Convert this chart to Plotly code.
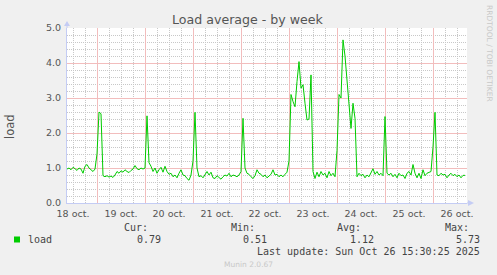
import pandas as pd
import plotly.graph_objects as go

# ---- data (hourly load average) ----
d18 = [0.97, 1.0, 0.95, 1.02, 0.98, 0.93, 1.0, 0.97, 0.85, 1.05, 1.1, 1.0, 0.95, 0.9, 0.97]
d19 = [1.4, 2.6, 2.55, 0.78, 0.75, 0.78, 0.74, 0.77, 0.73, 0.8, 0.9, 0.85, 0.92, 0.88, 0.95, 0.9,
       0.87, 0.93, 0.97, 1.07, 0.98, 0.95, 1.0, 0.97]
d20 = [1.0, 2.49, 1.15, 1.05, 0.9, 1.0, 0.85, 0.95, 1.02, 0.88, 1.05, 0.9, 0.82, 0.85, 0.75, 0.8,
       0.72, 0.85, 0.95, 0.8, 0.78, 0.7, 0.65, 0.8]
d21 = [1.2, 2.59, 1.0, 0.75, 0.78, 0.72, 0.82, 0.9, 0.8, 0.88, 0.72, 0.7, 0.78, 0.72, 0.68, 0.75,
       0.8, 0.77, 0.85, 0.75, 0.8, 0.78, 0.75, 0.8]
d22 = [0.9, 2.42, 1.0, 0.85, 0.82, 0.75, 0.7, 0.78, 0.95, 0.85, 0.82, 0.75, 0.8, 0.72, 0.78, 0.82,
       0.95, 0.8, 0.82, 0.75, 0.8, 0.75, 0.82, 0.88]
d23 = [1.2, 3.1, 2.9, 2.75, 3.47, 4.04, 3.28, 3.38, 2.85, 2.37, 2.4, 3.66, 0.9, 0.7, 0.88, 0.75,
       0.9, 0.8, 0.85, 0.72, 0.9, 0.78, 0.85, 0.75]
d24 = [1.5, 3.1, 3.0, 4.66, 4.2, 3.47, 2.75, 2.13, 2.85, 2.42, 0.75, 0.85, 0.78, 0.82, 0.72, 0.8,
       0.75, 0.85, 0.98, 0.82, 0.9, 0.8, 0.85, 0.78]
d25 = [2.47, 0.85, 0.8, 0.85, 0.75, 0.82, 0.72, 0.85, 0.78, 0.8, 0.7, 0.85, 0.9, 0.8, 1.1, 0.85,
       0.72, 0.85, 0.7, 0.95, 0.78, 0.85, 0.88, 0.9]
d26 = [1.6, 2.59, 0.8, 0.78, 0.85, 0.8, 0.82, 0.72, 0.8, 0.85, 0.78, 0.82, 0.75, 0.8, 0.72, 0.79, 0.79]

load = d18 + d19 + d20 + d21 + d22 + d23 + d24 + d25 + d26
start_time = "2025-10-18 09:00"
times = pd.date_range(start_time, periods=len(load), freq="h")

x_range = ["2025-10-18 09:00", "2025-10-26 17:00"]
y_range = [0, 5]
major_days = pd.date_range("2025-10-19", "2025-10-26", freq="D")

legend_cols = ["Cur:", "Min:", "Avg:", "Max:"]
legend_vals = ["0.79", "0.51", "1.12", "5.73"]
series_name = "load"
last_update = "Last update: Sun Oct 26 15:30:25 2025"

# minor grid positions (6 h and 0.2 steps), skipping the major (midnight / integer) lines
minor_x = [t for t in pd.date_range("2025-10-18 12:00", "2025-10-26 12:00", freq="6h") if t.hour != 0]
minor_y = [round(i * 0.2, 1) for i in range(1, 25) if i % 5 != 0]

# ---- layout geometry ----
W, H = 497, 275
ML, MR, MT, MB = 67, 30, 28, 72
PW, PH = W - ML - MR, H - MT - MB
X_SPAN_H = (pd.Timestamp(x_range[1]) - pd.Timestamp(x_range[0])).total_seconds() / 3600
HALF_PX_T = pd.Timedelta(hours=X_SPAN_H / PW / 2)      # half a pixel in time


def px(x):
    return (x - ML) / PW


def py(y):
    return (MT + PH - y) / PH


GREEN = "#00CC00"
TXT = "#555555"
LEG = "#444444"
AXC = "#C4CCF4"
MAJ = "#F2BDBD"
MIN = "#C8C8C8"
DASH = "1px,1px"

# vertical midnight (major) grid lines as a line trace beneath the data
gx, gy = [], []
for d in major_days:
    gx += [d + HALF_PX_T, d + HALF_PX_T, None]
    gy += [y_range[0], y_range[1], None]

fig = go.Figure()
fig.add_trace(go.Scatter(x=gx, y=gy, mode="lines", connectgaps=False,
                         line=dict(color=MAJ, width=1),
                         hoverinfo="skip", showlegend=False))
fig.add_trace(go.Scatter(x=times, y=load, mode="lines",
                         line=dict(color=GREEN, width=1), hoverinfo="skip",
                         showlegend=False))

fig.update_layout(
    width=W, height=H,
    margin=dict(l=ML, r=MR, t=MT, b=MB, pad=0),
    paper_bgcolor="#F0F0F0", plot_bgcolor="#FFFFFF",
    font=dict(family="DejaVu Sans", size=9.5, color=TXT),
    xaxis=dict(type="date", range=x_range, dtick=86400000, tick0="2025-10-18",
               tickformat="%d oct.", ticklabelmode="period", ticks="",
               showgrid=True, gridcolor=MAJ, gridwidth=1,
               minor=dict(tickmode="array", tickvals=minor_x, showgrid=True,
                          gridcolor=MIN, griddash=DASH, gridwidth=1, ticks=""),
               showline=True, linecolor=AXC, linewidth=1, zeroline=False,
               tickfont=dict(size=9.5, color=TXT), ticklabelstandoff=2,
               fixedrange=True),
    yaxis=dict(range=y_range, dtick=1, tickformat=".1f", ticks="",
               showgrid=True, gridcolor=MAJ, gridwidth=1,
               minor=dict(tickmode="array", tickvals=minor_y, showgrid=True,
                          gridcolor=MIN, griddash=DASH, gridwidth=1, ticks=""),
               showline=True, linecolor=AXC, linewidth=1, zeroline=False,
               tickfont=dict(size=9.5, color=TXT), ticklabelstandoff=3,
               fixedrange=True),
)

# axis arrow extensions and heads, legend colour box
shapes = [
    dict(type="line", xref="paper", yref="paper", x0=px(ML), x1=px(ML), y0=py(MT), y1=py(MT - 5),
         line=dict(color=AXC, width=1)),
    dict(type="path", xref="paper", yref="paper",
         path=f"M {px(ML-3)} {py(MT-2)} L {px(ML+3)} {py(MT-2)} L {px(ML)} {py(MT-7)} Z",
         fillcolor=AXC, line=dict(color=AXC, width=0)),
    dict(type="line", xref="paper", yref="paper", x0=px(ML + PW), x1=px(ML + PW + 3),
         y0=py(MT + PH), y1=py(MT + PH), line=dict(color=AXC, width=1)),
    dict(type="path", xref="paper", yref="paper",
         path=f"M {px(ML+PW+1)} {py(MT+PH-3)} L {px(ML+PW+1)} {py(MT+PH+3)} L {px(ML+PW+7)} {py(MT+PH)} Z",
         fillcolor=AXC, line=dict(color=AXC, width=0)),
    dict(type="rect", xref="paper", yref="paper", x0=px(14), x1=px(20), y0=py(242.5), y1=py(236.5),
         fillcolor=GREEN, line=dict(width=0)),
]
fig.update_layout(shapes=shapes)

ann = []


def text(x, y, s, size, color, family="DejaVu Sans", xanchor="center", angle=0):
    ann.append(dict(x=px(x), y=py(y), xref="paper", yref="paper", text=s, showarrow=False,
                    xanchor=xanchor, yanchor="middle", textangle=angle,
                    font=dict(family=family, size=size, color=color)))


text(248, 19, "Load average - by week", 12.6, TXT)
text(10, 127, "load", 11.5, TXT, angle=-90)
text(490, 53, "RRDTOOL / TOBI OETIKER", 7.5, "#C8C8C8", angle=90)

mono = "DejaVu Sans Mono"
text(26, 239.5, series_name, 10, LEG, family=mono, xanchor="left")
col_right = [150, 257, 363.3, 470.7]
val_right = [162.7, 269.3, 375.7, 482.3]
for c, v, cx, vx in zip(legend_cols, legend_vals, col_right, val_right):
    text(cx, 227.3, c, 10, LEG, family=mono, xanchor="right")
    text(vx, 239.5, v, 10, LEG, family=mono, xanchor="right")
text(482.3, 251.7, last_update, 10, LEG, family=mono, xanchor="right")
text(248, 264, "Munin 2.0.67", 7.5, "#C8C8C8")

fig.update_layout(annotations=ann)
fig.write_html("out.html")
